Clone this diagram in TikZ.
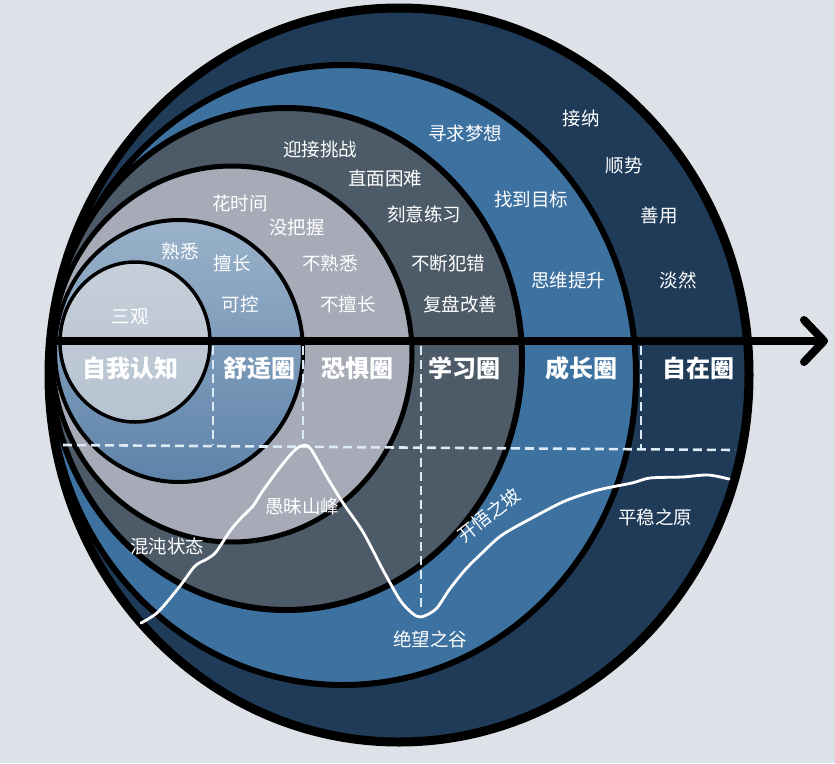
\documentclass[tikz,border=0pt]{standalone}
\usepackage{fontspec}
\newfontfamily\cjk{Noto Sans CJK SC}
\definecolor{paper}{HTML}{DDE2E8}
\definecolor{navy}{HTML}{1F3B58}
\definecolor{growblue}{HTML}{3D71A0}
\definecolor{slate}{HTML}{4D5B68}
\definecolor{fog}{HTML}{A7AAB7}
\definecolor{comfytop}{HTML}{9AB2CA}
\definecolor{comfybot}{HTML}{5E83A9}
\definecolor{selftop}{HTML}{C6CFDA}
\definecolor{selfbot}{HTML}{B6C3D0}
\definecolor{guideblue}{HTML}{DCEAF6}
\tikzset{
  ring/.style={draw=black, line width=#1},
  zone/.style={text=white, inner sep=0pt, font=\cjk\bfseries\fontsize{24}{26}\selectfont},
  word/.style={text=white, inner sep=0pt, font=\cjk\fontsize{18.5}{20}\selectfont},
  guide/.style={draw=guideblue, line width=2.6pt, dash pattern=on 9pt off 5pt},
}
\begin{document}
\begin{tikzpicture}[x=1pt,y=-1pt]
  \fill[paper] (0,0) rectangle (835,763);
  \useasboundingbox (0,0) rectangle (835,763);
  % circles, outside in
  \draw[ring=9pt, fill=navy] (399,375) ellipse [x radius=350pt, y radius=367pt];
  \draw[ring=6pt, fill=growblue] (343,375) ellipse [x radius=293pt, y radius=310pt];
  \draw[ring=6pt, fill=slate] (286,359) ellipse [x radius=236pt, y radius=251pt];
  \draw[ring=5pt, fill=fog] (232,354) ellipse [x radius=180pt, y radius=188pt];
  \draw[ring=4pt, top color=comfytop, bottom color=comfybot] (179,351) ellipse [x radius=124pt, y radius=131pt];
  \draw[ring=3.5pt, top color=selftop, bottom color=selfbot] (135,342) ellipse [x radius=75pt, y radius=80pt];
  % guide lines
  \draw[guide] (63,445) -- (735,450);
  \foreach \x/\y in {213/445, 303/446, 421/612, 641/449}{
    \draw[guide] (\x,346) -- (\x,\y);
  }
  % axis
  \coordinate (start) at (48,341);
  \coordinate (tip) at (824,341);
  \draw[line width=8pt] (start) -- (tip);
  \draw[line width=8pt, line cap=round, line join=round] (804,320) -- (tip) -- (804,362);
  % the curve
  \draw[white, line width=2.8pt, line cap=round, line join=round]
    plot[smooth, tension=0.5] coordinates {(141,623) (158,612) (180,586) (195,566) (207,559)
    (216,552) (230,531) (241,518) (253,506) (262,492) (278,470) (292,453) (301,446) (310,448)
    (327,477) (343,503) (363,532) (383,570) (400,600) (412,613) (421,617) (436,609) (449,590)
    (465,570) (482,553) (502,535) (532,518) (565,501) (598,490) (632,483) (650,478) (682,477)
    (708,475) (729,479)};
  % zone names
  \foreach \x/\y/\lab [count=\k] in {130/368/自我认知, 259/368/舒适圈, 357/368/恐惧圈,
      464/368/学习圈, 581/368/成长圈, 698/368/自在圈}{
    \node[zone] (z\k) at (\x,\y) {\lab};
  }
  % words in the rings
  \foreach \x/\y/\lab [count=\k] in {130/317/三观, 180/251/熟悉, 232/263/擅长, 240/304/可控,
      240/203/花时间, 297/227/没把握, 330/263/不熟悉, 348/304/不擅长,
      320/149/迎接挑战, 385/178/直面困难, 424/214/刻意练习, 448/263/不断犯错, 460/304/复盘改善,
      465/134/寻求梦想, 531/199/找到目标, 568/280/思维提升,
      581/118/接纳, 624/166/顺势, 659/215/善用, 678/280/淡然}{
    \node[word] (w\k) at (\x,\y) {\lab};
  }
  % words on the curve
  \foreach \x/\y/\lab [count=\k] in {167/546/混沌状态, 302/506/愚昧山峰, 430/639/绝望之谷, 655/517/平稳之原}{
    \node[word] (c\k) at (\x,\y) {\lab};
  }
  \node[word, rotate=38] (slope) at (489,515) {开悟之坡};
\end{tikzpicture}
\end{document}
